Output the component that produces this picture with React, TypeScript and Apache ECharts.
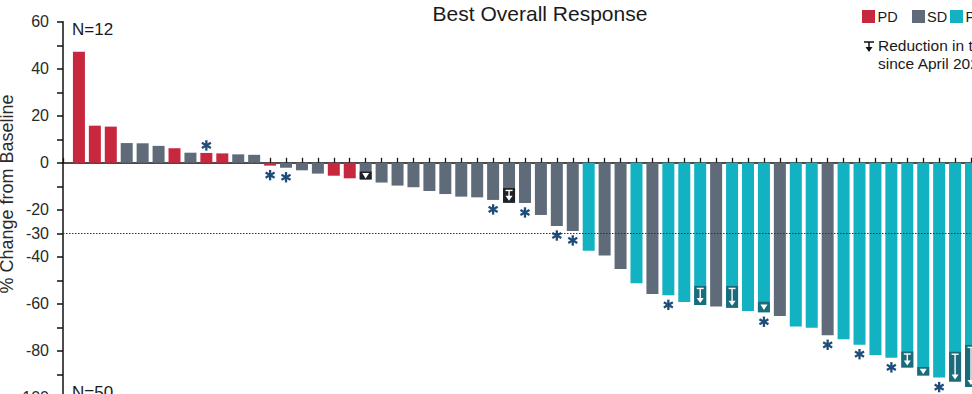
import React, { useEffect, useRef } from "react";
import * as echarts from "echarts";

// ---- data ----
const groups = ["PD", "SD", "PR"];
const groupColors = ["#c8283e", "#5f6b79", "#13b2c2"];

const responses = [
  "PD", "PD", "PD", "SD", "SD", "SD", "PD", "SD", "PD", "PD", "SD", "SD",
  "PD", "SD", "SD", "SD", "PD", "PD", "SD", "SD", "SD", "SD", "SD", "SD",
  "SD", "SD", "SD", "SD", "SD", "SD", "SD", "SD",
  "PR", "SD", "SD", "PR", "SD", "PR", "PR", "PR", "SD", "PR", "PR", "PR",
  "SD", "PR", "PR", "SD", "PR", "PR", "PR", "PR", "PR", "PR", "PR", "PR",
  "PR", "PR", "PR", "PR", "PR", "PR",
];

const changeValues = [
  47.3, 15.8, 15.4, 8.4, 8.3, 7.2, 6.2, 4.3, 4.2, 4.0, 3.6, 3.4,
  -1.2, -2.1, -3.2, -4.6, -5.5, -6.6, -7.1, -8.4, -9.7, -10.4, -12.0, -13.3,
  -14.4, -14.7, -15.8, -17.0, -17.1, -22.2, -26.9, -29.0,
  -37.4, -39.4, -45.2, -51.3, -55.8, -56.4, -59.2, -60.5, -61.2, -61.7, -63.1, -63.6,
  -65.2, -69.7, -70.2, -73.4, -75.1, -77.4, -81.8, -83.0, -87.1, -90.5, -91.4, -93.1,
  -95.4, -96.5, -98.0, -100, -100, -100,
];

const asteriskIdx = [8, 12, 13, 26, 28, 30, 31, 37, 43, 47, 49, 51, 54];
const arrowIdx = [18, 27, 39, 41, 43, 52, 53, 55, 56];
const arrowFrom = [-3.7, -10.7, -52.4, -52.4, -59.1, -80.3, -86.9, -80.4, -77.5];

const yLabelValues = [60, 40, 20, 0, -20, -30, -40, -60, -80, -100];
const thresholdLine = -30;

const titleText = "Best Overall Response";
const yAxisTitle = "% Change from Baseline";
const topCountText = "N=12";
const bottomCountText = "N=50";
const arrowLegendLines = ["Reduction in tumor size", "since April 2021"];

// legend layout (pixel positions of squares / labels)
const legendSquareX = [862, 912, 950];
const legendTextX = [877.5, 927, 965.5];

const FONT = "'Liberation Sans', Arial, Helvetica, sans-serif";

export default function App() {
  const ref = useRef<HTMLDivElement>(null);

  useEffect(() => {
    if (!ref.current) return;
    const chart = echarts.init(ref.current, undefined, { renderer: "svg" });

    const barSeries = groups.map((g, gi) => ({
      name: g,
      type: "bar",
      barWidth: 12,
      barGap: "-100%",
      itemStyle: { color: groupColors[gi] },
      data: changeValues
        .map((v, i) => (responses[i] === g ? [i, v] : null))
        .filter((d) => d !== null),
      z: 2,
      ...(gi === 0
        ? {
            markLine: {
              silent: true,
              symbol: "none",
              z: 6,
              label: { show: false },
              lineStyle: { type: [1.5, 1.5], color: "#333", width: 1 },
              data: [{ yAxis: thresholdLine }],
            },
          }
        : {}),
    }));

    const arrowSeries = {
      type: "custom",
      z: 4,
      silent: true,
      encode: { x: 0, y: [1, 2] },
      data: arrowIdx.map((idx, k) => [idx, changeValues[idx], arrowFrom[k]]),
      renderItem: (params: any, api: any) => {
        const i = api.value(0);
        const bot = api.coord([i, api.value(1)]);
        const top = api.coord([i, api.value(2)]);
        const cx = bot[0];
        const h = bot[1] - top[1];
        const dark = responses[i] === "SD" ? "#1e2227" : "#1b6b7b";
        const children: any[] = [
          {
            type: "rect",
            shape: { x: cx - 6, y: top[1], width: 12, height: h },
            style: { fill: dark },
          },
        ];
        if (h > 13) {
          children.push(
            {
              type: "line",
              shape: { x1: cx - 3.5, y1: top[1] + 2.5, x2: cx + 3.5, y2: top[1] + 2.5 },
              style: { stroke: "#fff", lineWidth: 1.4 },
            },
            {
              type: "line",
              shape: { x1: cx, y1: top[1] + 2.5, x2: cx, y2: bot[1] - 6 },
              style: { stroke: "#fff", lineWidth: 1.4 },
            },
            {
              type: "polygon",
              shape: {
                points: [
                  [cx - 3.5, bot[1] - 7],
                  [cx + 3.5, bot[1] - 7],
                  [cx, bot[1] - 2],
                ],
              },
              style: { fill: "#fff" },
            }
          );
        } else {
          const mid = (top[1] + bot[1]) / 2;
          children.push({
            type: "polygon",
            shape: {
              points: [
                [cx - 3.5, mid - 2.5],
                [cx + 3.5, mid - 2.5],
                [cx, mid + 3],
              ],
            },
            style: { fill: "#fff" },
          });
        }
        return { type: "group", children };
      },
    };

    const asteriskSeries = {
      type: "custom",
      z: 5,
      silent: true,
      data: asteriskIdx.map((idx) => [idx, changeValues[idx]]),
      renderItem: (params: any, api: any) => {
        const v = api.value(1);
        const p = api.coord([api.value(0), v]);
        const cx = p[0];
        const cy = v >= 0 ? p[1] - 7.5 : p[1] + 9.5;
        const r = 5.2;
        const angles = [Math.PI / 2, Math.PI / 6, -Math.PI / 6];
        return {
          type: "group",
          children: angles.map((a) => ({
            type: "line",
            shape: {
              x1: cx - r * Math.cos(a),
              y1: cy - r * Math.sin(a),
              x2: cx + r * Math.cos(a),
              y2: cy + r * Math.sin(a),
            },
            style: { stroke: "#1f4d79", lineWidth: 2.3 },
          })),
        };
      },
    };

    const textStyleBase = { fontFamily: FONT, fill: "#1a1a1a" };

    const legendGraphics: any[] = [];
    groups.forEach((g, gi) => {
      legendGraphics.push({
        type: "rect",
        shape: { x: legendSquareX[gi], y: 10, width: 13, height: 13 },
        style: { fill: groupColors[gi] },
      });
      legendGraphics.push({
        type: "text",
        x: legendTextX[gi],
        y: 16.5,
        style: { ...textStyleBase, text: g, fontSize: 14.5, align: "left", verticalAlign: "middle" },
      });
    });

    chart.setOption({
      animation: false,
      backgroundColor: "#ffffff",
      textStyle: { fontFamily: FONT },
      grid: {
        left: 63,
        top: 21.8,
        width: 1003.6,
        height: 376,
        outerBoundsMode: "none",
        containLabel: false,
      },
      xAxis: {
        type: "value",
        min: -1,
        max: 62,
        interval: 1,
        axisLine: { onZero: true, lineStyle: { color: "#111", width: 1.5 } },
        axisTick: { show: true, inside: true, length: 5, lineStyle: { color: "#111", width: 1.3 } },
        axisLabel: { show: false },
        splitLine: { show: false },
      },
      yAxis: {
        type: "value",
        min: -100,
        max: 60,
        interval: 10,
        axisLine: { show: true, onZero: false, lineStyle: { color: "#111", width: 1.5 } },
        axisTick: { show: true, length: 6, lineStyle: { color: "#111", width: 1.5 } },
        axisLabel: {
          fontSize: 16,
          color: "#2a2a2a",
          fontFamily: FONT,
          margin: 14,
          formatter: (v: number) => (yLabelValues.includes(v) ? String(v) : ""),
        },
        splitLine: { show: false },
      },
      series: [...barSeries, arrowSeries, asteriskSeries],
      graphic: [
        {
          type: "text",
          x: 540,
          y: 13,
          style: {
            ...textStyleBase,
            text: titleText,
            fontSize: 21,
            align: "center",
            verticalAlign: "middle",
          },
        },
        {
          type: "text",
          x: 7,
          y: 194,
          rotation: Math.PI / 2,
          style: {
            ...textStyleBase,
            fill: "#2a2a2a",
            text: yAxisTitle,
            fontSize: 18,
            align: "center",
            verticalAlign: "middle",
          },
        },
        {
          type: "text",
          x: 72,
          y: 29,
          style: { ...textStyleBase, text: topCountText, fontSize: 17, align: "left", verticalAlign: "middle" },
        },
        {
          type: "text",
          x: 72,
          y: 392,
          style: { ...textStyleBase, text: bottomCountText, fontSize: 17, align: "left", verticalAlign: "middle" },
        },
        ...legendGraphics,
        {
          type: "group",
          children: [
            { type: "line", shape: { x1: 864, y1: 42, x2: 874, y2: 42 }, style: { stroke: "#111", lineWidth: 1.5 } },
            { type: "line", shape: { x1: 869, y1: 42, x2: 869, y2: 48 }, style: { stroke: "#111", lineWidth: 1.5 } },
            { type: "polygon", shape: { points: [[865.5, 47], [872.5, 47], [869, 52]] }, style: { fill: "#111" } },
          ],
        },
        {
          type: "text",
          x: 878,
          y: 45.5,
          style: { ...textStyleBase, text: arrowLegendLines[0], fontSize: 15.5, align: "left", verticalAlign: "middle" },
        },
        {
          type: "text",
          x: 878,
          y: 63,
          style: { ...textStyleBase, text: arrowLegendLines[1], fontSize: 15.5, align: "left", verticalAlign: "middle" },
        },
      ],
    });

    return () => chart.dispose();
  }, []);

  return (
    <div
      style={{
        position: "absolute",
        left: 0,
        top: 0,
        width: 972,
        height: 394,
        overflow: "hidden",
        background: "#fff",
      }}
    >
      <div ref={ref} style={{ width: 1100, height: 420 }} />
    </div>
  );
}
